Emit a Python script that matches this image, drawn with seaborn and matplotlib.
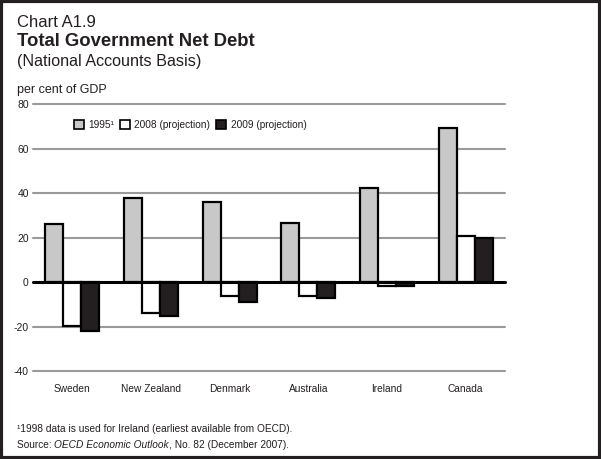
import matplotlib
matplotlib.use("Agg")
import matplotlib.pyplot as plt
import seaborn as sns
import pandas as pd
from matplotlib.patches import Rectangle, Patch

countries = ["Sweden", "New Zealand", "Denmark", "Australia", "Ireland", "Canada"]
series_names = ["1995\u00b9", "2008 (projection)", "2009 (projection)"]
v1995 = [26.0, 38.0, 36.2, 26.8, 42.5, 69.5]
v2008 = [-19.7, -14.0, -6.2, -6.2, -1.7, 21.0]
v2009 = [-22.2, -15.1, -9.0, -7.2, -1.8, 20.0]
yticks = [-40, -20, 0, 20, 40, 60, 80]

df = pd.DataFrame({
    "country": countries * 3,
    "series": [series_names[0]] * 6 + [series_names[1]] * 6 + [series_names[2]] * 6,
    "value": v1995 + v2008 + v2009,
})

sns.set_theme(style="white")
plt.rcParams["font.family"] = ["Liberation Sans", "DejaVu Sans"]
txt = "#231f20"
plt.rcParams["text.color"] = txt

fig = plt.figure(figsize=(6.01, 4.59), dpi=100)
ax = fig.add_axes([33 / 601, 1 - 371 / 459, 472 / 601, (371 - 104.5) / 459])

colors = ["#c8c8c8", "#ffffff", "#231f20"]
sns.barplot(data=df, x="country", y="value", hue="series", hue_order=series_names,
            order=countries, palette=colors, width=0.69, edgecolor="black",
            linewidth=1.6, saturation=1, ax=ax, legend=False, zorder=3)

ax.set_ylim(-40, 80)
ax.set_xlim(-0.5, 5.5)
ax.set_yticks(yticks)
ax.set_yticklabels([str(t) for t in yticks], fontsize=7.5, color=txt)
for t in yticks:
    if t == 0:
        ax.axhline(t, color="black", lw=2.2, zorder=5, clip_on=False)
    else:
        ax.axhline(t, color="#9a9a9a", lw=1.5, zorder=1, clip_on=False)
ax.tick_params(axis="y", length=0, pad=3)
ax.tick_params(axis="x", length=0, pad=9, labelsize=7.3, labelcolor=txt)
ax.set_xlabel("")
ax.set_ylabel("")
for s in ax.spines.values():
    s.set_visible(False)
ax.set_facecolor("none")

handles = [Patch(facecolor=c, edgecolor="black", linewidth=1.2) for c in colors]
ax.legend(handles, series_names, loc="center left", bbox_to_anchor=(0.087, 0.923),
          ncol=3, frameon=False, fontsize=7.3, handlelength=0.95, handleheight=0.95,
          handletextpad=0.45, columnspacing=0.6, borderpad=0, borderaxespad=0)

fig.text(17 / 601, 1 - 27 / 459, "Chart A1.9", fontsize=12, va="baseline")
fig.text(17 / 601, 1 - 46 / 459, "Total Government Net Debt", fontsize=13.3,
         fontweight="bold", va="baseline")
fig.text(17 / 601, 1 - 66 / 459, "(National Accounts Basis)", fontsize=11.6, va="baseline")
fig.text(17 / 601, 1 - 93 / 459, "per cent of GDP", fontsize=9, va="baseline")
fig.text(17 / 601, 1 - 432 / 459, "\u00b91998 data is used for Ireland (earliest available from OECD).",
         fontsize=7.3, va="baseline")
src = fig.text(17 / 601, 1 - 448 / 459, "Source: ", fontsize=7.3, va="baseline")
fig.canvas.draw()
r = fig.canvas.get_renderer()
bb = src.get_window_extent(r)
it = fig.text(bb.x1 / fig.bbox.width, 1 - 448 / 459, "OECD Economic Outlook", fontsize=7.3,
              style="italic", va="baseline")
bb2 = it.get_window_extent(r)
fig.text(bb2.x1 / fig.bbox.width, 1 - 448 / 459, ", No. 82 (December 2007).", fontsize=7.3,
         va="baseline")

fig.patches.append(Rectangle((0.002, 0.003), 0.996, 0.994, transform=fig.transFigure,
                             fill=False, edgecolor="#231f20", linewidth=3))

fig.savefig("out.png", dpi=100)
